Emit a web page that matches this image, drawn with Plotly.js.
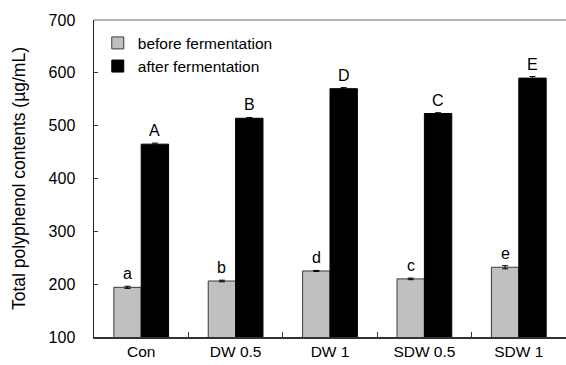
<!DOCTYPE html>
<html>
<head>
<meta charset="utf-8">
<script src="https://cdn.plot.ly/plotly-3.0.1.min.js"></script>
<style>html,body{margin:0;padding:0;background:#fff;}#chart{width:566px;height:365px;}</style>
</head>
<body>
<div id="chart"></div>
<script>
const categories = ["Con", "DW 0.5", "DW 1", "SDW 0.5", "SDW 1"];
const beforeValues = [194, 206, 225, 210, 232];
const afterValues = [465, 514, 570, 523, 590];
const beforeErrors = [2, 1.5, 1, 1.5, 3];
const afterErrors = [2, 1.5, 2, 1.5, 3];
const beforeLetters = ["a", "b", "d", "c", "e"];
const afterLetters = ["A", "B", "D", "C", "E"];

const FONT = "Arial, 'Liberation Sans', sans-serif";
const halfOffset = 0.145;

const traces = [
  {
    type: "bar", name: "before fermentation", x: categories, y: beforeValues,
    marker: {color: "#c0c0c0", line: {color: "#3a3a3a", width: 1}},
    error_y: {type: "data", array: beforeErrors, visible: true, color: "#000", thickness: 1, width: 3}
  },
  {
    type: "bar", name: "after fermentation", x: categories, y: afterValues,
    marker: {color: "#000000", line: {color: "#000", width: 1}},
    error_y: {type: "data", array: afterErrors, visible: true, color: "#000", thickness: 1, width: 3}
  }
];

const annotations = [];
categories.forEach((c, i) => {
  annotations.push({x: i - halfOffset, y: beforeValues[i] + beforeErrors[i], xref: "x", yref: "y",
    text: beforeLetters[i], showarrow: false, yanchor: "bottom", yshift: 2,
    font: {family: FONT, size: 16, color: "#000"}});
  annotations.push({x: i + halfOffset, y: afterValues[i] + afterErrors[i], xref: "x", yref: "y",
    text: afterLetters[i], showarrow: false, yanchor: "bottom", yshift: 2,
    font: {family: FONT, size: 16, color: "#000"}});
});

const layout = {
  width: 566, height: 365,
  margin: {l: 94, r: 0, t: 20, b: 28, autoexpand: false},
  paper_bgcolor: "#fff", plot_bgcolor: "#fff",
  font: {family: FONT, size: 16, color: "#000"},
  barmode: "group", bargap: 0.42, bargroupgap: 0,
  showlegend: true,
  legend: {x: 0.008, y: 0.98, xanchor: "left", yanchor: "top", bgcolor: "rgba(0,0,0,0)",
    font: {family: FONT, size: 15.5, color: "#000"}, itemwidth: 30, traceorder: "normal"},
  xaxis: {
    type: "category", range: [-0.5, 4.5], tickson: "boundaries",
    ticks: "inside", ticklen: 5, tickcolor: "#333", tickwidth: 1,
    showline: true, linecolor: "#333", linewidth: 1.5,
    showgrid: false, zeroline: false, automargin: false,
    tickfont: {family: FONT, size: 15.5, color: "#000"}
  },
  yaxis: {
    range: [100, 700], dtick: 100, tick0: 100,
    ticks: "inside", ticklen: 4, tickcolor: "#333",
    showline: true, linecolor: "#222", linewidth: 1.5,
    showgrid: false, zeroline: false, automargin: false,
    ticklabelstandoff: 14,
    tickfont: {family: FONT, size: 16, color: "#000"},
    title: {text: "Total polyphenol contents (µg/mL)", font: {family: FONT, size: 17.5, color: "#000"}, standoff: 18}
  },
  shapes: [
    {type: "line", xref: "paper", yref: "paper", x0: 0, x1: 1, y0: 1, y1: 1, line: {color: "#999", width: 1.5}}
  ],
  annotations: annotations
};

Plotly.newPlot("chart", traces, layout, {displayModeBar: false, staticPlot: true});
</script>
</body>
</html>
